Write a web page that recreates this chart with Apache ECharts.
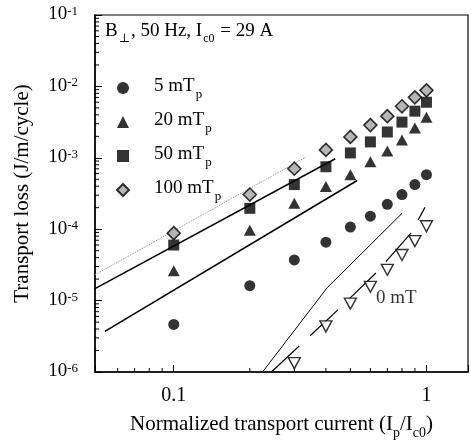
<!DOCTYPE html>
<html><head><meta charset="utf-8">
<script src="https://cdn.jsdelivr.net/npm/echarts@6/dist/echarts.min.js"></script>
<style>html,body{margin:0;padding:0;background:#fff}#c{width:471px;height:445px}</style>
</head><body><div id="c"></div>
<script>
// ---- data ----
const currents = [0.1, 0.2, 0.3, 0.4, 0.5, 0.6, 0.7, 0.8, 0.9, 1.0];
const loss5mT   = [4.64e-6, 1.62e-5, 3.71e-5, 6.59e-5, 1.07e-4, 1.52e-4, 2.23e-4, 3.06e-4, 4.22e-4, 5.81e-4];
const loss20mT  = [2.61e-5, 9.69e-5, 2.30e-4, 3.96e-4, 5.81e-4, 8.80e-4, 1.25e-3, 1.78e-3, 2.61e-3, 3.71e-3];
const loss50mT  = [6.0e-5, 1.96e-4, 4.22e-4, 7.5e-4, 1.17e-3, 1.67e-3, 2.30e-3, 3.16e-3, 4.5e-3, 6.0e-3];
const loss100mT = [8.8e-5, 3.06e-4, 7.03e-4, 1.29e-3, 1.96e-3, 2.87e-3, 3.83e-3, 5.27e-3, 7.03e-3, 8.8e-3];
const currents0mT = [0.3, 0.4, 0.5, 0.6, 0.7, 0.8, 0.9, 1.0];
const loss0mT = [1.33e-6, 4.35e-6, 9.08e-6, 1.56e-5, 2.70e-5, 4.35e-5, 6.81e-5, 1.10e-4];

// theoretical curves
const dottedLineX = [0.0488, 0.3347];
const dottedLineY = [2.30e-5, 1.03e-3];
const upperLineX = [0.0488, 0.4356];
const upperLineY = [1.47e-5, 9.69e-4];
const lowerLineX = [0.0534, 0.532];
const lowerLineY = [3.71e-6, 4.80e-4];
const thinLineX = [0.2245, 0.405, 0.8007];
const thinLineY = [1e-6, 1.52e-5, 1.67e-4];
const dashLineX = [0.2435, 0.4477, 0.632, 0.8687, 0.9865];
const dashLineY = [1e-6, 7.5e-6, 2.45e-5, 8.8e-5, 2.02e-4];

const seriesNames = ['5 mT', '20 mT', '50 mT', '100 mT'];
const annotationText = '0 mT';
const annotationPos = [0.626, 1.10e-5];

// axis
const X_MIN = 0.0488, X_MAX = 1.46;
const Y_MIN = 1e-6, Y_MAX = 1e-1;
const xMajorLabels = [0.1, 1];
const xMinorTicks = [0.06, 0.07, 0.08, 0.09, 0.2, 0.3, 0.4, 0.5, 0.6, 0.7, 0.8, 0.9];
const yDecades = [-6, -5, -4, -3, -2];
const yMantissas = [2, 3, 4, 5, 6, 7, 8, 9];

const F = "'Liberation Serif','DejaVu Serif',serif";
const pair = (xs, ys) => xs.map((x, i) => [x, ys[i]]);

const tickData = [];
xMinorTicks.forEach(v => tickData.push([v, Y_MIN, 0]));
yDecades.forEach(d => yMantissas.forEach(m => tickData.push([X_MIN, m * Math.pow(10, d), 1])));

const chart = echarts.init(document.getElementById('c'), null, {renderer: 'canvas'});
const lineBase = {type: 'line', showSymbol: false, symbol: 'none', silent: true, z: 2, animation: false};

chart.setOption({
  animation: false,
  backgroundColor: '#fff',
  textStyle: {fontFamily: F, color: '#000'},
  grid: {left: 95, top: 15, width: 374, height: 360, show: true, borderColor: '#000', borderWidth: 1.2},
  title: {
    text: '{a|B}{s|⊥}{a|, 50 Hz, I}{s|c0}{a| = 29 A}',
    left: 105, top: 22, padding: 0,
    textStyle: {fontWeight: 'normal', rich: {
      a: {fontFamily: F, fontSize: 19, fontWeight: 'normal', lineHeight: 22, verticalAlign: 'top', color: '#000'},
      s: {fontFamily: F, fontSize: 12, fontWeight: 'normal', lineHeight: 12, padding: [11, 1, 0, 1], verticalAlign: 'top', color: '#000'}
    }}
  },
  legend: {
    orient: 'vertical', left: 116, top: 77, padding: 0, itemGap: 10,
    itemWidth: 12, itemHeight: 12, selectedMode: false,
    data: seriesNames,
    formatter: n => '{a|' + n + '}{s|p}',
    textStyle: {rich: {
      a: {fontFamily: F, fontSize: 19, lineHeight: 22, padding: [0, 0, 0, 20], verticalAlign: 'top', color: '#000'},
      s: {fontFamily: F, fontSize: 13, lineHeight: 13, padding: [11, 0, 0, 1], verticalAlign: 'top', color: '#000'}
    }}
  },
  xAxis: {
    type: 'log', logBase: 10, min: X_MIN, max: X_MAX,
    axisLine: {show: true, onZero: false, lineStyle: {color: '#000', width: 1.5}},
    axisTick: {show: true, inside: true, length: 7, lineStyle: {color: '#000', width: 1}},
    splitLine: {show: false},
    axisLabel: {
      margin: 14, color: '#000', fontFamily: F, fontSize: 20,
      formatter: v => xMajorLabels.some(t => Math.abs(t - v) < 1e-9) ? String(v) : ''
    },
    name: '{a|Normalized transport current (I}{s|p}{a|/I}{s|c0}{a|)}',
    nameLocation: 'middle', nameGap: 42,
    nameTextStyle: {rich: {
      a: {fontFamily: F, fontSize: 21, lineHeight: 24, verticalAlign: 'top', color: '#000'},
      s: {fontFamily: F, fontSize: 14, lineHeight: 14, padding: [12, 0, 0, 0], verticalAlign: 'top', color: '#000'}
    }}
  },
  yAxis: {
    type: 'log', logBase: 10, min: Y_MIN, max: Y_MAX,
    axisLine: {show: true, onZero: false, lineStyle: {color: '#000', width: 1.5}},
    axisTick: {show: true, inside: true, length: 7, lineStyle: {color: '#000', width: 1}},
    splitLine: {show: false},
    axisLabel: {
      margin: 17, color: '#000',
      formatter: v => '{b|10}{s|' + Math.round(Math.log10(v)) + '}',
      rich: {
        b: {fontFamily: F, fontSize: 19, lineHeight: 20, verticalAlign: 'top', color: '#000'},
        s: {fontFamily: F, fontSize: 13, lineHeight: 13, verticalAlign: 'top', color: '#000'}
      }
    },
    name: 'Transport loss (J/m/cycle)',
    nameLocation: 'middle', nameGap: 62,
    nameTextStyle: {fontFamily: F, fontSize: 21, color: '#000'}
  },
  series: [
    Object.assign({}, lineBase, {name: 'dotted', data: pair(dottedLineX, dottedLineY), lineStyle: {color: '#8a8a8a', width: 1, type: 'dotted'}}),
    Object.assign({}, lineBase, {name: 'upper', data: pair(upperLineX, upperLineY), lineStyle: {color: '#000', width: 1.6}}),
    Object.assign({}, lineBase, {name: 'lower', data: pair(lowerLineX, lowerLineY), lineStyle: {color: '#000', width: 1.6}}),
    Object.assign({}, lineBase, {name: 'thin', data: pair(thinLineX, thinLineY), lineStyle: {color: '#000', width: 1}}),
    Object.assign({}, lineBase, {name: 'dash', data: pair(dashLineX, dashLineY), lineStyle: {color: '#000', width: 1.2, type: [38, 15]}}),
    {type: 'scatter', name: seriesNames[0], symbol: 'circle', symbolSize: 11, z: 4,
     itemStyle: {color: '#000'}, data: pair(currents, loss5mT)},
    {type: 'scatter', name: seriesNames[1], symbol: 'triangle', symbolSize: [12, 11], z: 4,
     itemStyle: {color: '#000'}, data: pair(currents, loss20mT)},
    {type: 'scatter', name: seriesNames[2], symbol: 'rect', symbolSize: 11, z: 4,
     itemStyle: {color: '#000'}, data: pair(currents, loss50mT)},
    {type: 'scatter', name: seriesNames[3], symbol: 'diamond', symbolSize: 13, z: 4,
     itemStyle: {color: '#a4a4a4', borderColor: '#000', borderWidth: 1.6}, data: pair(currents, loss100mT)},
    {type: 'scatter', name: '0 mT', symbol: 'triangle', symbolRotate: 180, symbolSize: [12, 11], z: 4,
     itemStyle: {color: '#fff', borderColor: '#000', borderWidth: 1.4}, data: pair(currents0mT, loss0mT)},
    {type: 'scatter', name: 'annot', symbolSize: 2, z: 5, silent: true,
     itemStyle: {color: 'rgba(255,255,255,0)'},
     label: {show: true, position: 'right', distance: 0, align: 'left', verticalAlign: 'middle',
             formatter: annotationText, fontFamily: F, fontSize: 19, color: '#000'},
     data: [annotationPos]},
    {type: 'custom', name: 'ticks', coordinateSystem: 'cartesian2d', silent: true, z: 6,
     data: tickData,
     renderItem: (params, api) => {
       const p = api.coord([api.value(0), api.value(1)]);
       const kind = api.value(2);
       const shape = kind === 0 ? {x1: p[0], y1: p[1], x2: p[0], y2: p[1] - 4}
                                : {x1: p[0], y1: p[1], x2: p[0] + 4, y2: p[1]};
       return {type: 'line', shape: shape, style: {stroke: '#000', lineWidth: 1}};
     }}
  ]
});
</script>
</body></html>
